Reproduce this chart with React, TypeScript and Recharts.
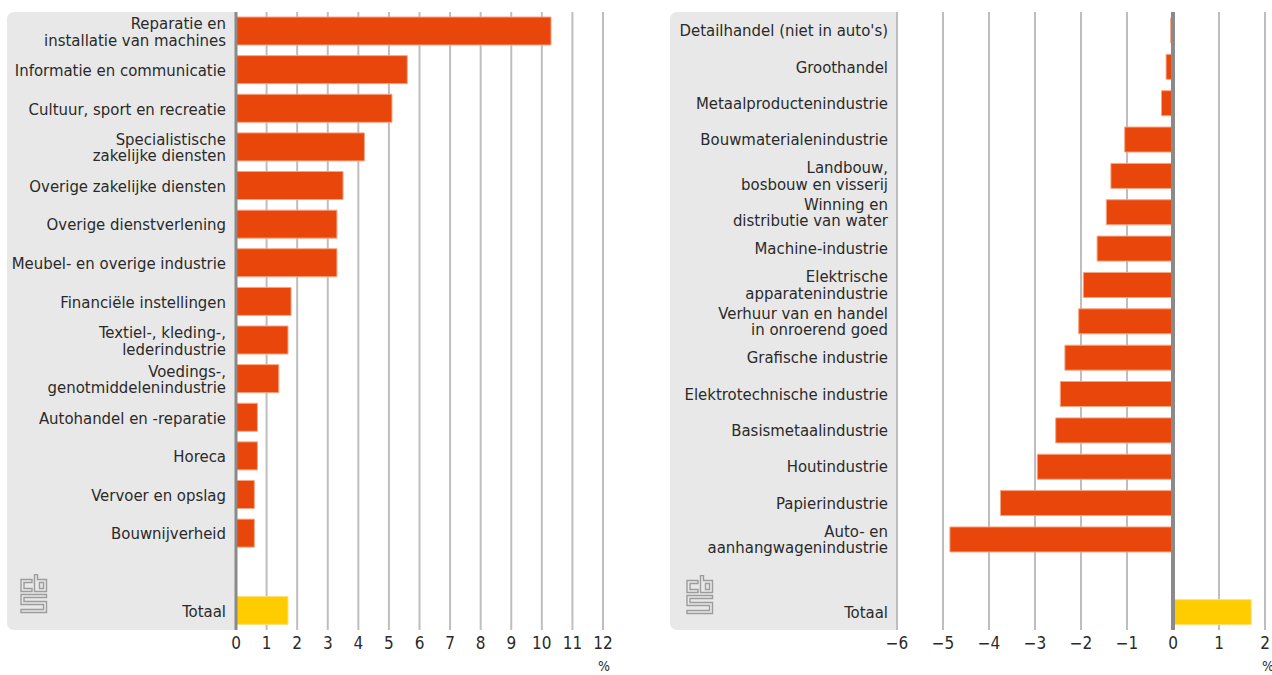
import React from 'react';
import { BarChart, Bar, XAxis, YAxis, CartesianGrid, ReferenceLine, Cell } from 'recharts';

const LEFT_CATEGORIES = [
  'Reparatie en\ninstallatie van machines',
  'Informatie en communicatie',
  'Cultuur, sport en recreatie',
  'Specialistische\nzakelijke diensten',
  'Overige zakelijke diensten',
  'Overige dienstverlening',
  'Meubel- en overige industrie',
  'Financiële instellingen',
  'Textiel-, kleding-,\nlederindustrie',
  'Voedings-,\ngenotmiddelenindustrie',
  'Autohandel en -reparatie',
  'Horeca',
  'Vervoer en opslag',
  'Bouwnijverheid',
  ' ',
  'Totaal',
];
const LEFT_VALUES: (number | null)[] = [10.3, 5.6, 5.1, 4.2, 3.5, 3.3, 3.3, 1.8, 1.7, 1.4, 0.7, 0.7, 0.6, 0.6, null, 1.7];
const LEFT_TICKS = [0, 1, 2, 3, 4, 5, 6, 7, 8, 9, 10, 11, 12];

const RIGHT_CATEGORIES = [
  "Detailhandel (niet in auto's)",
  'Groothandel',
  'Metaalproductenindustrie',
  'Bouwmaterialenindustrie',
  'Landbouw,\nbosbouw en visserij',
  'Winning en\ndistributie van water',
  'Machine-industrie',
  'Elektrische\napparatenindustrie',
  'Verhuur van en handel\nin onroerend goed',
  'Grafische industrie',
  'Elektrotechnische industrie',
  'Basismetaalindustrie',
  'Houtindustrie',
  'Papierindustrie',
  'Auto- en\naanhangwagenindustrie',
  ' ',
  'Totaal',
];
const RIGHT_VALUES: (number | null)[] = [-0.05, -0.15, -0.25, -1.05, -1.35, -1.45, -1.65, -1.95, -2.05, -2.35, -2.45, -2.55, -2.95, -3.75, -4.85, null, 1.7];
const RIGHT_TICKS = [-6, -5, -4, -3, -2, -1, 0, 1, 2];

const TOTAL_LABEL = 'Totaal';
const UNIT = '%';

const leftData = LEFT_CATEGORIES.map((name, i) => ({ name, value: LEFT_VALUES[i] }));
const rightData = RIGHT_CATEGORIES.map((name, i) => ({ name, value: RIGHT_VALUES[i] }));

const FONT = "'DejaVu Sans Condensed', 'DejaVu Sans', sans-serif";
const TEXT = '#2a2a2a';
const ORANGE = '#e8460a';
const YELLOW = '#ffcc00';
const GRID = '#bebebe';

const CatTick = (props: any) => {
  const { x, y, payload } = props;
  const lines = String(payload.value).split('\n');
  const lh = 16.5;
  const start = -((lines.length - 1) * lh) / 2;
  return (
    <text x={x} y={y} textAnchor="end" fill={TEXT} fontSize={16.6} fontFamily={FONT} style={{ fontStretch: 'condensed' }}>
      {lines.map((l, i) => (
        <tspan key={i} x={x} y={y + start + i * lh} dy="0.36em">
          {l}
        </tspan>
      ))}
    </text>
  );
};

const fmt = (v: number) => String(v).replace('-', '\u2212');

const Logo = ({ left, top }: { left: number; top: number }) => (
  <svg width={28} height={40} style={{ position: 'absolute', left, top }}>
    <g fill="none" stroke="#9c9c9c" strokeWidth={1.4}>
      <path d="M12,5.5 H1 V17.5 H12 V14.5 H4 V8.5 H12 Z" />
      <path d="M14.5,0.5 V17.5 H26.5 V5.5 H17.5 V0.5 Z" />
      <path d="M19.5,8.5 H23.5 V14.5 H19.5 Z" />
      <path d="M26.5,20.5 H1 V30.5 H23.5 V35.5 H1 V38.5 H26.5 V27.5 H4 V23.5 H26.5 Z" />
    </g>
  </svg>
);

const tickStyle = { fill: TEXT, fontSize: 17, fontFamily: FONT, style: { fontStretch: 'condensed' } };

export default function App() {
  return (
    <div style={{ position: 'absolute', left: 0, top: 0, width: 1272, height: 675, background: '#fff', fontFamily: FONT }}>
      <div style={{ position: 'absolute', left: 7, top: 12, width: 229, height: 618, background: '#e8e8e8', borderRadius: '7px 0 0 7px' }} />
      <div style={{ position: 'absolute', left: 670, top: 12, width: 227, height: 618, background: '#e8e8e8', borderRadius: '7px 0 0 7px' }} />
      <Logo left={20} top={574} />
      <Logo left={686} top={575} />

      <div style={{ position: 'absolute', left: 0, top: 0 }}>
        <BarChart width={640} height={675} data={leftData} layout="vertical" margin={{ top: 12, right: 37, bottom: 15, left: 0 }} barSize={28}>
          <CartesianGrid horizontal={false} stroke={GRID} strokeWidth={2} />
          <XAxis type="number" domain={[0, 12]} ticks={LEFT_TICKS} axisLine={false} tickLine={false} tickSize={0} tickMargin={7} height={30} interval={0}
            tick={tickStyle} />
          <YAxis type="category" dataKey="name" width={236} axisLine={false} tickLine={false} tickSize={0} tickMargin={10} interval={0} tick={<CatTick />} />
          <Bar dataKey="value" isAnimationActive={false} strokeWidth={1}>
            {leftData.map((d, i) => (
              <Cell key={i} fill={d.name === TOTAL_LABEL ? YELLOW : ORANGE} stroke={d.name === TOTAL_LABEL ? '#ffe07a' : '#f6a582'} />
            ))}
          </Bar>
          <ReferenceLine x={0} stroke="#8a8a8a" strokeWidth={3} />
        </BarChart>
      </div>

      <div style={{ position: 'absolute', left: 640, top: 0 }}>
        <BarChart width={632} height={675} data={rightData} layout="vertical" margin={{ top: 12, right: 7, bottom: 15, left: 0 }} barSize={25}>
          <CartesianGrid horizontal={false} stroke={GRID} strokeWidth={2} />
          <XAxis type="number" domain={[-6, 2]} ticks={RIGHT_TICKS} axisLine={false} tickLine={false} tickSize={0} tickMargin={7} height={30} interval={0}
            tickFormatter={fmt} tick={tickStyle} />
          <YAxis type="category" dataKey="name" width={257} axisLine={false} tickLine={false} tickSize={0} tickMargin={9} interval={0} tick={<CatTick />} />
          <Bar dataKey="value" isAnimationActive={false} strokeWidth={1}>
            {rightData.map((d, i) => (
              <Cell key={i} fill={d.name === TOTAL_LABEL ? YELLOW : ORANGE} stroke={d.name === TOTAL_LABEL ? '#ffe07a' : '#f6a582'} />
            ))}
          </Bar>
          <ReferenceLine x={0} stroke="#8a8a8a" strokeWidth={4} />
        </BarChart>
      </div>

      <div style={{ position: 'absolute', left: 598, top: 658, fontSize: 14, color: TEXT, fontStretch: 'condensed' }}>{UNIT}</div>
      <div style={{ position: 'absolute', left: 1262, top: 658, fontSize: 14, color: TEXT, fontStretch: 'condensed' }}>{UNIT}</div>
    </div>
  );
}
